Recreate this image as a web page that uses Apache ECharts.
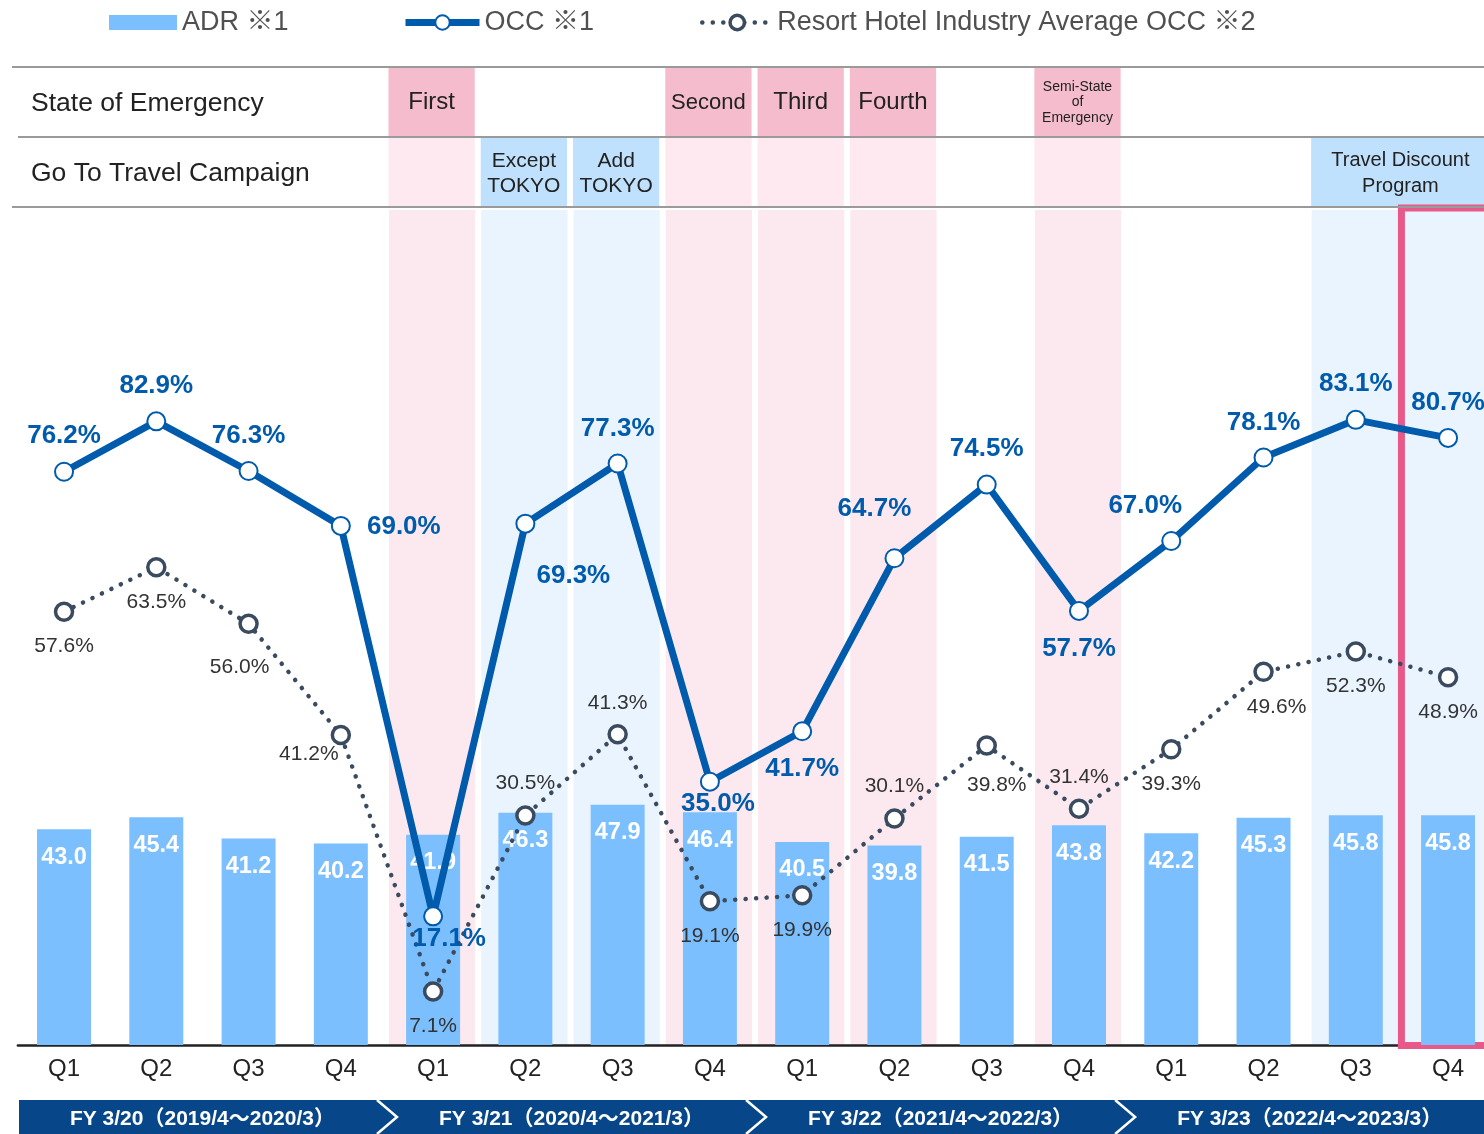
<!DOCTYPE html>
<html><head><meta charset="utf-8">
<script src="https://cdn.jsdelivr.net/npm/echarts@6/dist/echarts.min.js"></script>
<style>html,body{margin:0;padding:0;background:#fff}#c{width:1484px;height:1134px}</style>
</head><body><div id="c"></div>
<script>
// ---------- data ----------
const categories = ['Q1','Q2','Q3','Q4','Q1','Q2','Q3','Q4','Q1','Q2','Q3','Q4','Q1','Q2','Q3','Q4'];
const fiscalYears = ['FY 3/20（2019/4～2020/3）','FY 3/21（2020/4～2021/3）','FY 3/22（2021/4～2022/3）','FY 3/23（2022/4～2023/3）'];
const adr = [43.0,45.4,41.2,40.2,41.9,46.3,47.9,46.4,40.5,39.8,41.5,43.8,42.2,45.3,45.8,45.8];
const occ = [76.2,82.9,76.3,69.0,17.1,69.3,77.3,35.0,41.7,64.7,74.5,57.7,67.0,78.1,83.1,80.7];
const industryOcc = [57.6,63.5,56.0,41.2,7.1,30.5,41.3,19.1,19.9,30.1,39.8,31.4,39.3,49.6,52.3,48.9];
const emergencyIdx = [4,7,8,9,11];
const emergencyLabels = ['First','Second','Third','Fourth','Semi-State\nof\nEmergency'];
const goToFrom = [5,6,14];
const goToTo = [5,6,15];
const goToLabels = ['Except\nTOKYO','Add\nTOKYO','Travel Discount\nProgram'];
const highlightIdx = 15;
const seriesNames = ['ADR ※1','OCC ※1','Resort Hotel Industry Average OCC ※2'];
const rowTitles = ['State of Emergency','Go To Travel Campaign'];

// ---------- layout / style (not data) ----------
const FONT = '"Liberation Sans", Arial, "Noto Sans CJK JP", sans-serif';
const occOffsets = [[0,-36],[0,-36],[0,-35],[63,1],[16,22],[48,52],[0,-35],[8,22],[0,38],[-20,-49],[0,-36],[0,38],[-26,-35],[0,-35],[0,-36],[0,-35]];
const indOffsets = [[0,35],[0,35],[-9,43],[-32,19],[0,35],[0,-32],[0,-31],[0,35],[0,35],[0,-32],[10,40],[0,-32],[0,35],[13,35],[0,35],[0,35]];
const emergencyFont = [24,22,24,24,14];
const emergencyLH = [26,26,26,26,15.5];
const goToFont = [21,21,20];
const OCC_COLOR = '#005bac', IND_COLOR = '#3a4a5f';

const chart = echarts.init(document.getElementById('c'), null, {renderer:'canvas'});

const legendText = {fontSize:27, color:'#505050', fontFamily:FONT, padding:[0,0,18,0]};
const option = {
  animation:false,
  textStyle:{fontFamily:FONT},
  legend:[
    {data:[seriesNames[0]], left:109, top:9, padding:0, itemWidth:68, itemHeight:15, icon:'rect', textStyle:legendText},
    {data:[seriesNames[1]], left:402, top:9, padding:0, itemWidth:74, itemHeight:18, textStyle:legendText,
      lineStyle:{width:7, color:OCC_COLOR}, itemStyle:{color:'#fff', borderColor:OCC_COLOR, borderWidth:2}},
    {data:[seriesNames[2]], left:700, top:9, padding:0, itemWidth:70, itemHeight:18, textStyle:legendText,
      lineStyle:{width:4.5, color:IND_COLOR, type:[0.1,10.4], cap:'round'},
      itemStyle:{color:'#fff', borderColor:IND_COLOR, borderWidth:3.5}}
  ],
  grid:{left:17.9, width:1476.3, top:217.5, bottom:89, outerBoundsMode:'none', containLabel:false},
  xAxis:{
    type:'category', data:categories,
    axisTick:{show:false},
    axisLine:{lineStyle:{color:'#222', width:2.5}},
    axisLabel:{fontSize:24, color:'#222', margin:12, fontFamily:FONT}
  },
  yAxis:[
    {type:'value', min:0, max:165, show:false},
    {type:'value', min:0, max:110, show:false}
  ],
  series:[
    {
      name:seriesNames[0], type:'bar', data:adr, barWidth:'58.5%',
      itemStyle:{color:'#7cbfff'},
      label:{show:true, position:'insideTop', distance:16, color:'#fff', fontWeight:'bold', fontSize:23.5,
        fontFamily:FONT, formatter:p=>p.value.toFixed(1)}
    },
    {
      name:seriesNames[2], type:'line', yAxisIndex:1,
      data:industryOcc.map((v,i)=>({value:v, label:{offset:indOffsets[i]}})),
      lineStyle:{color:IND_COLOR, width:4.5, type:[0.1,10.4], cap:'round'},
      symbol:'circle', symbolSize:17,
      itemStyle:{color:'#fff', borderColor:IND_COLOR, borderWidth:3.5},
      label:{show:true, position:'inside', color:'#333', fontSize:21, fontFamily:FONT,
        formatter:p=>p.value.toFixed(1)+'%'}
    },
    {
      name:seriesNames[1], type:'line', yAxisIndex:1,
      data:occ.map((v,i)=>({value:v, label:{offset:occOffsets[i]}})),
      lineStyle:{color:OCC_COLOR, width:7},
      symbol:'circle', symbolSize:18,
      itemStyle:{color:'#fff', borderColor:OCC_COLOR, borderWidth:2},
      label:{show:true, position:'inside', color:OCC_COLOR, fontSize:26, fontWeight:'bold', fontFamily:FONT,
        formatter:p=>p.value.toFixed(1)+'%'}
    }
  ]
};
chart.setOption(option);

// ---------- decorations placed through the category axis ----------
const cx = i => chart.convertToPixel({xAxisIndex:0}, i);
const step = cx(1) - cx(0);
const leftOf = i => cx(i) - step/2;
const W = 1484;
const g = [];
const baseY = chart.convertToPixel({yAxisIndex:0}, 0);

// emergency bands
emergencyIdx.forEach((idx,k)=>{
  const x0 = leftOf(idx)+1.5, x1 = leftOf(idx)+step-4.5;
  g.push({type:'rect', z:-5, shape:{x:x0, y:67.5, width:x1-x0, height:69}, style:{fill:'#f4bccc'}});
  g.push({type:'rect', z:-5, shape:{x:x0, y:138, width:x1-x0, height:68}, style:{fill:'#fde9ef'}});
  g.push({type:'rect', z:-5, shape:{x:x0+0.5, y:210, width:x1-x0, height:baseY-210}, style:{fill:'#fce9ef'}});
  g.push({type:'text', z:5, x:(x0+x1)/2, y:102.5, style:{text:emergencyLabels[k], fill:'#222',
    font:emergencyFont[k]+'px '+FONT, align:'center', verticalAlign:'middle', lineHeight:emergencyLH[k]}});
});
// go to travel bands
goToFrom.forEach((a,k)=>{
  const x0 = leftOf(a)+1.5, x1 = leftOf(goToTo[k])+step-4.5;
  g.push({type:'rect', z:-5, shape:{x:x0, y:138, width:x1-x0, height:68}, style:{fill:'#bfe1fd'}});
  g.push({type:'rect', z:-5, shape:{x:x0+0.5, y:210, width:x1-x0, height:baseY-210}, style:{fill:'#eaf4ff'}});
  g.push({type:'text', z:5, x:(x0+x1)/2, y:173.5, style:{text:goToLabels[k], fill:'#222',
    font:goToFont[k]+'px '+FONT, align:'center', verticalAlign:'middle', lineHeight:25.5}});
});
// header lines
[[67,12],[137,18],[207,12]].forEach(([y,x])=>{
  g.push({type:'line', z:4, shape:{x1:x, y1:y, x2:W, y2:y}, style:{stroke:'#9a9a9a', lineWidth:2}});
});
// row titles
rowTitles.forEach((t,k)=>{
  g.push({type:'text', z:5, x:31, y:104+70*k, style:{text:t, fill:'#222', font:'26.5px '+FONT, align:'left', verticalAlign:'middle'}});
});
// highlight box
g.push({type:'rect', z:1, shape:{x:leftOf(highlightIdx)-0.5, y:208, width:step+30, height:baseY-208+0.5},
  style:{fill:null, stroke:'#e8598a', lineWidth:7}});
// FY ribbon
g.push({type:'rect', z:5, shape:{x:19, y:1100, width:W, height:40}, style:{fill:'#074789'}});
fiscalYears.forEach((t,k)=>{
  const a = leftOf(4*k), b = a + 4*step;
  if (k>0) g.push({type:'polyline', z:6, shape:{points:[[a-10,1100],[a+10,1117],[a-10,1134]]},
    style:{stroke:'#fff', lineWidth:2.5, fill:null}});
  g.push({type:'text', z:7, x:(a+b)/2, y:1119, style:{text:t, fill:'#fff', font:'bold 21px '+FONT,
    align:'center', verticalAlign:'middle'}});
});
chart.setOption({graphic:g});
</script></body></html>
